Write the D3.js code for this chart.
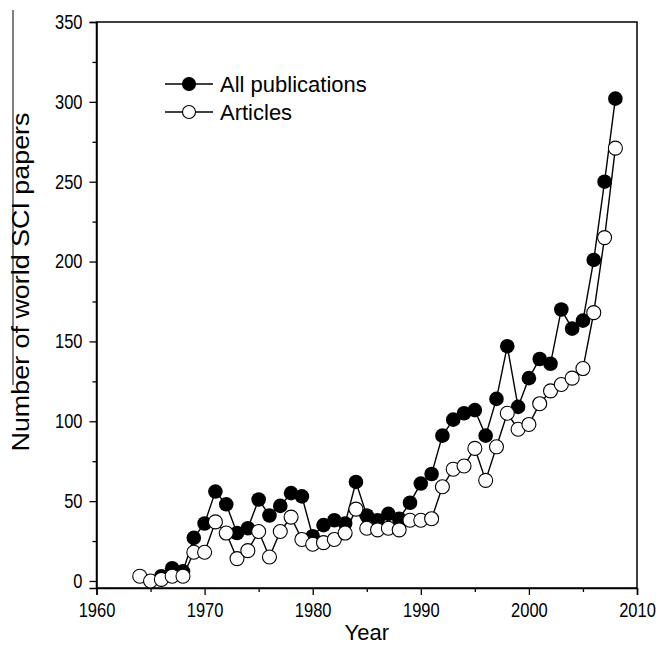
<!DOCTYPE html>
<html>
<head>
<meta charset="utf-8">
<script src="https://cdn.jsdelivr.net/npm/d3@7"></script>
<style>
  body { margin: 0; background: #fff; }
  text { font-family: "Liberation Sans", Arial, sans-serif; }
</style>
</head>
<body>
<script>
const allYears = d3.range(1966, 2009);
const allPubs = [3, 8, 6, 27, 36, 56, 48, 30, 33, 51, 41, 47, 55, 53, 28, 35, 38, 36, 62, 41, 38, 42, 39, 49, 61, 67, 91, 101, 105, 107, 91, 114, 147, 109, 127, 139, 136, 170, 158, 163, 201, 250, 302];
const articleYears = d3.range(1964, 2009);
const articles = [3, 0, 1, 3, 3, 18, 18, 37, 30, 14, 19, 31, 15, 31, 40, 26, 23, 24, 26, 30, 45, 33, 32, 33, 32, 38, 38, 39, 59, 70, 72, 83, 63, 84, 105, 95, 98, 111, 119, 123, 127, 133, 168, 215, 271];
const yTicks = [0, 50, 100, 150, 200, 250, 300, 350];
const yMinor = [25, 75, 125, 175, 225, 275, 325];
const xTicks = [1960, 1970, 1980, 1990, 2000, 2010];
const xMinor = [1965, 1975, 1985, 1995, 2005];

const W = 659, H = 646;

const svg = d3.select('body').append('svg')
  .attr('width', W)
  .attr('height', H);

// bottom of the frame sits a little under zero
const x = d3.scaleLinear().domain([1960, 2010]).range([96.5, 637]);
const y = d3.scaleLinear().domain([-4.4, 350]).range([588, 22]);

svg.append('rect')
  .attr('x', x(1960)).attr('y', y(350))
  .attr('width', x(2010) - x(1960)).attr('height', y(-4.4) - y(350))
  .attr('fill', 'none').attr('stroke', '#000').attr('stroke-width', 1.5);

// x axis
svg.append('g')
  .attr('class', 'ax')
  .attr('transform', `translate(0,${y(-4.4)})`)
  .call(d3.axisBottom(x).tickValues(xTicks).tickFormat(d3.format('d')).tickSize(7).tickPadding(5.5));
svg.append('g')
  .attr('transform', `translate(0,${y(-4.4)})`)
  .call(d3.axisBottom(x).tickValues(xMinor).tickFormat('').tickSize(4))
  .select('.domain').remove();

// y axis
svg.append('g')
  .attr('class', 'ax')
  .attr('transform', `translate(${x(1960)},0)`)
  .call(d3.axisLeft(y).tickValues(yTicks).tickSize(7).tickPadding(7));
svg.append('g')
  .attr('transform', `translate(${x(1960)},0)`)
  .call(d3.axisLeft(y).tickValues(yMinor).tickFormat('').tickSize(4))
  .select('.domain').remove();

svg.selectAll('.tick line').attr('stroke-width', 1.3);
svg.selectAll('.domain').attr('stroke-width', 1.5);
svg.selectAll('.ax .tick text')
  .style('font-size', '16.5px')
  .style('font-family', '"Liberation Sans", Arial, sans-serif')
  .attr('fill', '#000')
  .attr('transform', 'scale(1,1.2)');

// axis titles
svg.append('text')
  .attr('x', (x(1960) + x(2010)) / 2)
  .attr('y', 640)
  .attr('text-anchor', 'middle')
  .style('font-size', '22px')
  .text('Year');

svg.append('text')
  .attr('transform', 'translate(29,282) rotate(-90) scale(1.12,1)')
  .attr('text-anchor', 'middle')
  .style('font-size', '24px')
  .text('Number of world SCI papers');

// stray overline on the y title
svg.append('line')
  .attr('x1', 13).attr('x2', 13)
  .attr('y1', 10).attr('y2', 385)
  .attr('stroke', '#000').attr('stroke-width', 1);

const line = d3.line().x(d => x(d[0])).y(d => y(d[1]));

const allData = allYears.map((yr, i) => [yr, allPubs[i]]);
const artData = articleYears.map((yr, i) => [yr, articles[i]]);

svg.append('path')
  .datum(allData)
  .attr('d', line)
  .attr('fill', 'none').attr('stroke', '#000').attr('stroke-width', 1.4);
svg.selectAll('circle.all')
  .data(allData).enter().append('circle')
  .attr('class', 'all')
  .attr('cx', d => x(d[0])).attr('cy', d => y(d[1]))
  .attr('r', 7.3)
  .attr('fill', '#000');

svg.append('path')
  .datum(artData)
  .attr('d', line)
  .attr('fill', 'none').attr('stroke', '#000').attr('stroke-width', 1.4);
svg.selectAll('circle.art')
  .data(artData).enter().append('circle')
  .attr('class', 'art')
  .attr('cx', d => x(d[0])).attr('cy', d => y(d[1]))
  .attr('r', 7)
  .attr('fill', '#fff').attr('stroke', '#000').attr('stroke-width', 1.1);

// legend
const legend = svg.append('g');
const items = [
  { label: 'All publications', fill: '#000', yy: 84 },
  { label: 'Articles', fill: '#fff', yy: 112 }
];
items.forEach(it => {
  legend.append('line')
    .attr('x1', 165).attr('x2', 213)
    .attr('y1', it.yy).attr('y2', it.yy)
    .attr('stroke', '#000').attr('stroke-width', 1.4);
  legend.append('circle')
    .attr('cx', 189).attr('cy', it.yy).attr('r', 6.5)
    .attr('fill', it.fill).attr('stroke', '#000').attr('stroke-width', 1.1);
  legend.append('text')
    .attr('x', 220).attr('y', it.yy + 8)
    .style('font-size', '22px')
    .text(it.label);
});
</script>
</body>
</html>
